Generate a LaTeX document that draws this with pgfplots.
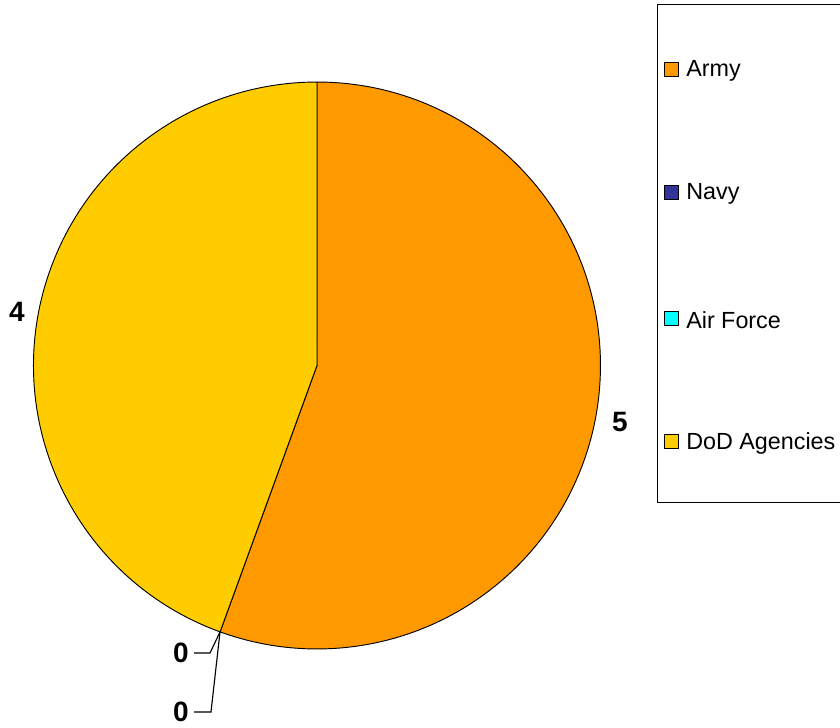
\documentclass[border=0pt]{standalone}
\usepackage{pgfplots}
\usepackage{pgfplotstable}
\pgfplotsset{compat=1.18}
\usepackage{fontspec}
\setmainfont{Liberation Sans}
\definecolor{armycol}{HTML}{FF9900}
\definecolor{navycol}{HTML}{333399}
\definecolor{afcol}{HTML}{00FFFF}
\definecolor{dodcol}{HTML}{FFCC00}
\pgfplotstableread{
label value
Army 5
Navy 0
AirForce 0
DoD 4
}\piedata
\begin{document}
\begin{tikzpicture}
\pgfplotstablegetelem{0}{value}\of\piedata \edef\va{\pgfplotsretval}
\pgfplotstablegetelem{1}{value}\of\piedata \edef\vb{\pgfplotsretval}
\pgfplotstablegetelem{2}{value}\of\piedata \edef\vc{\pgfplotsretval}
\pgfplotstablegetelem{3}{value}\of\piedata \edef\vd{\pgfplotsretval}
\pgfmathsetmacro{\tot}{\va+\vb+\vc+\vd}
\pgfmathsetmacro{\aA}{90}
\pgfmathsetmacro{\aB}{\aA-\va/\tot*360}
\pgfmathsetmacro{\aC}{\aB-\vb/\tot*360}
\pgfmathsetmacro{\aD}{\aC-\vc/\tot*360}
\pgfmathsetmacro{\aE}{\aD-\vd/\tot*360}
\begin{axis}[
  x=0.75pt, y=0.75pt,
  xmin=0, xmax=840, ymin=0, ymax=728,
  enlargelimits=false,
  scale only axis,
  hide axis,
  clip=false,
]
\coordinate (bl) at (axis cs:0,0);
\coordinate (tr) at (axis cs:840,728);
% pie
\filldraw[fill=armycol,draw=black,line width=0.7pt] (axis cs:317,362.5) -- ++(\aA:212.6pt) arc[start angle=\aA, end angle=\aB, radius=212.6pt] -- cycle;
\filldraw[fill=dodcol,draw=black,line width=0.7pt] (axis cs:317,362.5) -- ++(\aD:212.6pt) arc[start angle=\aD, end angle=\aE, radius=212.6pt] -- cycle;
% leader lines
\draw[black,line width=0.85pt] (axis cs:220,96) -- (axis cs:210,75) -- (axis cs:194,75);
\draw[black,line width=0.85pt] (axis cs:220,96) -- (axis cs:211,16) -- (axis cs:194,16);
% value labels
\node[font=\fontsize{21}{24}\selectfont\bfseries] at (axis cs:620,306) {\va};
\node[font=\fontsize{21}{24}\selectfont\bfseries] at (axis cs:17,416) {\vd};
\node[font=\fontsize{21}{24}\selectfont\bfseries] at (axis cs:181,75) {\vb};
\node[font=\fontsize{21}{24}\selectfont\bfseries] at (axis cs:181,16) {\vc};
% legend
\draw[black,line width=0.75pt] (axis cs:840,723) -- (axis cs:657,723) -- (axis cs:657,225) -- (axis cs:840,225);
\filldraw[fill=armycol,draw=black,line width=0.5pt] (axis cs:664,652) rectangle (axis cs:678,666);
\node[anchor=west,inner sep=0pt,font=\fontsize{17.5}{20}\selectfont] at (axis cs:686,657) {Army};
\filldraw[fill=navycol,draw=black,line width=0.5pt] (axis cs:664,529) rectangle (axis cs:678,543);
\node[anchor=west,inner sep=0pt,font=\fontsize{17.5}{20}\selectfont] at (axis cs:686,534) {Navy};
\filldraw[fill=afcol,draw=black,line width=0.5pt] (axis cs:664,403) rectangle (axis cs:678,417);
\node[anchor=west,inner sep=0pt,font=\fontsize{17.5}{20}\selectfont] at (axis cs:686,408) {Air Force};
\filldraw[fill=dodcol,draw=black,line width=0.5pt] (axis cs:664,280) rectangle (axis cs:678,294);
\node[anchor=west,inner sep=0pt,font=\fontsize{17.5}{20}\selectfont] at (axis cs:686,285) {DoD Agencies};
\end{axis}
\pgfresetboundingbox
\path (bl) rectangle (tr);
\end{tikzpicture}
\end{document}
